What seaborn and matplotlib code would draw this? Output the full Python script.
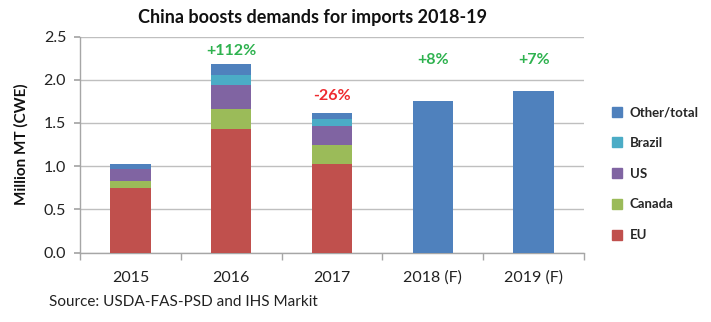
import matplotlib
matplotlib.use("Agg")
import matplotlib.pyplot as plt
from matplotlib.lines import Line2D
import seaborn as sns
import pandas as pd
import numpy as np

years = ["2015", "2016", "2017", "2018 (F)", "2019 (F)"]
eu = [0.745, 1.43, 1.03, 0.0, 0.0]
canada = [0.085, 0.235, 0.22, 0.0, 0.0]
us = [0.135, 0.275, 0.21, 0.0, 0.0]
brazil = [0.0, 0.11, 0.08, 0.0, 0.0]
other_total = [0.06, 0.13, 0.08, 1.75, 1.875]
changes = ["", "+112%", "-26%", "+8%", "+7%"]
change_y = [0, 2.33, 1.81, 2.23, 2.23]
change_colors = ["#2EB24F", "#2EB24F", "#EE2A2F", "#2EB24F", "#2EB24F"]

series_names = ["EU", "Canada", "US", "Brazil", "Other/total"]
series_vals = [eu, canada, us, brazil, other_total]
colors = {"EU": "#C0504D", "Canada": "#9BBB59", "US": "#8064A2",
          "Brazil": "#4BACC6", "Other/total": "#4F81BD"}

cum = np.cumsum(np.array(series_vals), axis=0)
rows = []
for si, name in enumerate(series_names):
    for yi, yr in enumerate(years):
        rows.append({"year": yr, "series": name, "cum": cum[si, yi]})
df = pd.DataFrame(rows)

sns.set_theme(style="white")
plt.rcParams["font.family"] = ["Lato", "DejaVu Sans"]

fig = plt.figure(figsize=(7.11, 3.22), dpi=100)
ax = fig.add_axes([80/711, 1-252.5/322, 504/711, (252.5-36.5)/322])

for name in reversed(series_names):
    sub = df[df["series"] == name]
    sns.barplot(data=sub, x="year", y="cum", color=colors[name], width=0.4,
                saturation=1, ax=ax, order=years, zorder=3, linewidth=0)

ax.set_ylim(0, 2.5)
ax.set_xlim(-0.5, 4.5)
ax.set_yticks(np.arange(0, 2.51, 0.5))
ax.set_yticklabels([f"{v:.1f}" for v in np.arange(0, 2.51, 0.5)], fontsize=11.5, color="#222222")
ax.yaxis.grid(True, color="#BFBFBF", linewidth=1, zorder=0)
ax.set_axisbelow(True)
ax.set_xlabel("")
ax.set_ylabel("Million MT (CWE)", fontsize=11, fontweight="bold", color="#111111", labelpad=11)
ax.tick_params(axis="x", which="major", length=0, labelsize=11.5, labelcolor="#222222", pad=13)
ax.set_xticks(np.arange(-0.5, 4.6, 1), minor=True)
ax.tick_params(axis="x", which="minor", length=5, color="#A6A6A6", direction="out", bottom=True)
ax.tick_params(axis="y", length=4, color="#A6A6A6", direction="out", left=True, pad=6)
for s in ["top", "right"]:
    ax.spines[s].set_visible(False)
for s in ["left", "bottom"]:
    ax.spines[s].set_color("#A6A6A6")
    ax.spines[s].set_linewidth(1)

for i, (t, yv, c) in enumerate(zip(changes, change_y, change_colors)):
    if t:
        ax.text(i, yv, t, ha="center", va="center", fontsize=11.5,
                fontweight="bold", color=c)

fig.text(312/711, 1-18/322, "China boosts demands for imports 2018-19",
         ha="center", va="center", fontsize=13, fontweight="bold", color="#111111")
fig.text(49/711, 1-302/322, "Source: USDA-FAS-PSD and IHS Markit",
         ha="left", va="center", fontsize=11, color="#222222")

handles = [Line2D([0], [0], marker="s", linestyle="", markersize=7,
                  markerfacecolor=colors[n], markeredgecolor=colors[n])
           for n in reversed(series_names)]
leg = fig.legend(handles, list(reversed(series_names)), loc="upper left",
                 bbox_to_anchor=(606/711, 1-101/322), frameon=False,
                 prop={"weight": "bold", "size": 9.5}, labelspacing=1.42,
                 handlelength=0.8, handletextpad=0.6, borderaxespad=0)

fig.savefig("out.png", dpi=100)
